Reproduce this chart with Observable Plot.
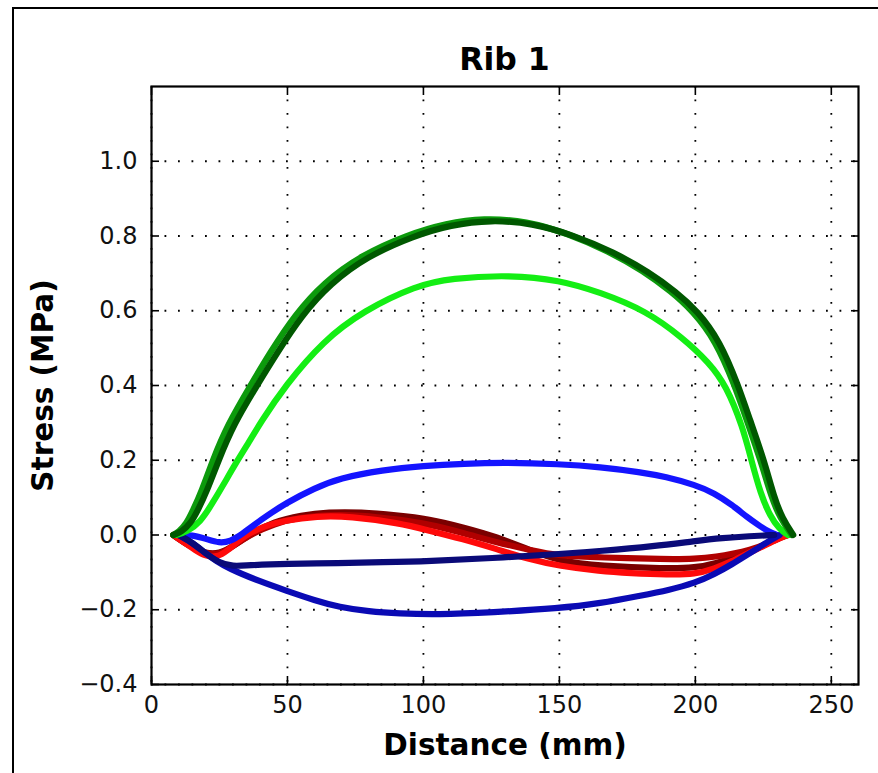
<!DOCTYPE html>
<html><head><meta charset="utf-8">
<script src="https://cdn.jsdelivr.net/npm/d3@7"></script>
<script src="https://cdn.jsdelivr.net/npm/@observablehq/plot@0.6"></script>
<style>
body{margin:0;background:#fff;width:878px;height:773px;overflow:hidden;position:relative;font-family:"DejaVu Sans",sans-serif}
#frame{position:absolute;left:12px;top:7px;width:900px;height:800px;border:2px solid #000;box-sizing:border-box;pointer-events:none;z-index:2}
#title{position:absolute;top:43px;left:151px;width:707px;text-align:center;font-weight:bold;font-size:31.5px;line-height:32px;font-family:"DejaVu Sans",sans-serif;z-index:3}
#chart{position:absolute;left:0;top:82px}
</style></head>
<body>
<div id="frame"></div>
<div id="title">Rib 1</div>
<div id="chart"></div>
<script>
const title = "Rib 1";
const xLabel = "Distance (mm)";
const yLabel = "Stress (MPa)";
const xTicks = [0, 50, 100, 150, 200, 250];
const yTicks = [-0.4, -0.2, 0.0, 0.2, 0.4, 0.6, 0.8, 1.0];

// dark green
const darkGreenX = [8, 11, 14.3, 17, 20.4, 24.7, 30, 38.8, 46, 55.3, 65.7, 79.2, 96.3, 110, 125, 140, 155, 170, 183, 193, 200.7, 209, 215.8, 220, 225.3, 229, 232, 236];
const darkGreenY = [0, 0.008, 0.03, 0.065, 0.118, 0.2, 0.293, 0.4, 0.485, 0.588, 0.672, 0.745, 0.8, 0.83, 0.843, 0.834, 0.803, 0.757, 0.703, 0.65, 0.6, 0.52, 0.4, 0.31, 0.2, 0.1, 0.045, 0];
// medium green
const greenX = [8, 10, 12.8, 15.2, 18.5, 22.5, 27.8, 36.4, 43.5, 52.8, 63.3, 77, 94, 108.5, 122, 138, 153, 168, 181, 191, 199, 207.5, 214.5, 218.8, 224, 228, 231.2, 235.5];
const greenY = [0, 0.008, 0.03, 0.065, 0.118, 0.2, 0.293, 0.4, 0.487, 0.59, 0.675, 0.748, 0.803, 0.834, 0.848, 0.84, 0.807, 0.76, 0.706, 0.652, 0.6, 0.52, 0.4, 0.31, 0.2, 0.1, 0.045, 0];
// lime green
const limeX = [9, 13, 18, 22, 26.5, 30.8, 36, 40, 49.2, 63.2, 77.9, 97.5, 110, 132, 150, 164.8, 181.9, 195.3, 205.1, 211.3, 217.4, 220.6, 224, 227.5, 231, 234];
const limeY = [0, 0.008, 0.035, 0.08, 0.135, 0.19, 0.25, 0.3, 0.4, 0.52, 0.6, 0.668, 0.687, 0.696, 0.682, 0.65, 0.6, 0.528, 0.461, 0.4, 0.29, 0.2, 0.11, 0.05, 0.015, 0];
// bright blue
const blueX = [10, 15, 20, 25, 29, 33, 40, 50, 60, 69, 85, 100, 115, 130, 150, 165, 180, 189, 200, 207, 213.6, 219, 223.5, 227, 230];
const blueY = [0, 0, -0.01, -0.022, -0.017, 0, 0.04, 0.088, 0.125, 0.152, 0.174, 0.185, 0.191, 0.194, 0.19, 0.182, 0.168, 0.156, 0.134, 0.112, 0.08, 0.048, 0.025, 0.009, 0];
// navy
const navyX = [10, 15, 20, 25, 30, 35, 50, 69, 85, 102, 125, 150, 165, 185, 200, 210, 220, 229];
const navyY = [0, -0.02, -0.05, -0.075, -0.084, -0.081, -0.077, -0.075, -0.073, -0.07, -0.062, -0.051, -0.043, -0.03, -0.016, -0.008, -0.003, 0];
// lower blue
const lowBlueX = [10, 15, 20, 24, 28, 40, 50, 60, 69, 80, 91, 105, 125, 150, 165, 180, 190, 200, 207, 213.6, 219, 223.5, 227, 231];
const lowBlueY = [0, -0.02, -0.05, -0.07, -0.088, -0.125, -0.15, -0.175, -0.193, -0.205, -0.21, -0.213, -0.207, -0.196, -0.183, -0.162, -0.148, -0.128, -0.105, -0.078, -0.053, -0.033, -0.016, 0];
// red
const redX = [8, 12, 16, 20, 24, 28, 32, 36, 42, 48.5, 61, 73, 91, 102, 114, 127, 139, 150, 165, 176, 190, 200, 207, 213.6, 219, 223.5, 229, 234];
const redY = [0, -0.02, -0.04, -0.057, -0.06, -0.042, -0.015, 0.005, 0.025, 0.038, 0.051, 0.05, 0.032, 0.012, -0.01, -0.038, -0.065, -0.083, -0.097, -0.102, -0.106, -0.105, -0.09, -0.07, -0.05, -0.035, -0.015, 0];
// dark red
const darkRedX = [8, 14, 20, 25, 30, 36, 45, 55, 65, 77, 90, 102, 115, 127, 139, 150, 165, 189, 200, 208, 214, 220, 226, 230, 234];
const darkRedY = [0, -0.03, -0.05, -0.053, -0.03, 0, 0.03, 0.048, 0.054, 0.053, 0.042, 0.029, 0.005, -0.02, -0.04, -0.056, -0.06, -0.065, -0.064, -0.058, -0.05, -0.04, -0.025, -0.01, 0];
// maroon
const maroonX = [8, 14, 20, 25, 30, 36, 45, 55, 65, 77, 90, 102, 115, 127, 139, 150, 165, 189, 200, 208, 214, 220, 226, 230, 234];
const maroonY = [0, -0.03, -0.05, -0.05, -0.03, 0, 0.036, 0.053, 0.061, 0.061, 0.053, 0.043, 0.02, -0.005, -0.04, -0.07, -0.083, -0.09, -0.088, -0.075, -0.06, -0.045, -0.025, -0.01, 0];

const seriesX = [maroonX, darkRedX, redX, blueX, lowBlueX, navyX, limeX, greenX, darkGreenX];
const seriesY = [maroonY, darkRedY, redY, blueY, lowBlueY, navyY, limeY, greenY, darkGreenY];
const seriesColors = ["#7a0000", "#b00000", "#ff0a0a", "#1414ff", "#0a0ab4", "#0a0a78", "#14ee14", "#0c9a0c", "#005800"];

const lineMarks = seriesX.map((xs, i) =>
  Plot.line(xs.map((x, j) => ({x, y: seriesY[i][j]})), {
    x: "x", y: "y", stroke: seriesColors[i], strokeWidth: 6.2,
    curve: "basis", strokeLinecap: "round", strokeLinejoin: "round"
  })
);

const chart = Plot.plot({
  width: 878,
  height: 691,
  marginLeft: 151,
  marginRight: 20,
  marginTop: 4,
  marginBottom: 89,
  style: {fontFamily: "DejaVu Sans, sans-serif", background: "transparent", overflow: "visible"},
  x: {domain: [0, 260]},
  y: {domain: [-0.4, 1.2]},
  marks: [
    Plot.gridX(xTicks, {stroke: "#000", strokeOpacity: 1, strokeWidth: 1.8, strokeDasharray: "1.8,11.7"}),
    Plot.gridY(yTicks, {stroke: "#000", strokeOpacity: 1, strokeWidth: 1.8, strokeDasharray: "1.8,11.7"}),
    ...lineMarks,
    Plot.axisX(xTicks, {anchor: "bottom", tickSize: -8, tickPadding: 19, strokeWidth: 1.6, fontSize: 24, tickFormat: d3.format("d"), label: null, fill: "#111"}),
    Plot.axisX(xTicks, {anchor: "top", tickSize: -8, strokeWidth: 1.6, tickFormat: () => "", label: null}),
    Plot.axisY(yTicks, {anchor: "left", tickSize: -8, tickPadding: 22, strokeWidth: 1.6, fontSize: 24, tickFormat: d3.format(".1f"), label: null, fill: "#111"}),
    Plot.axisY(yTicks, {anchor: "right", tickSize: -8, strokeWidth: 1.6, tickFormat: () => "", label: null}),
    Plot.frame({stroke: "#000", strokeWidth: 2.2}),
    Plot.text([xLabel], {frameAnchor: "bottom", dy: 61, lineAnchor: "middle", textAnchor: "middle", fontSize: 29.5, fontWeight: "bold", fill: "#000"}),
    Plot.text([yLabel], {frameAnchor: "left", dx: -108, rotate: -90, lineAnchor: "middle", textAnchor: "middle", fontSize: 29.5, fontWeight: "bold", fill: "#000"})
  ]
});
document.getElementById("chart").appendChild(chart);
document.getElementById("title").textContent = title;
</script>
</body></html>
